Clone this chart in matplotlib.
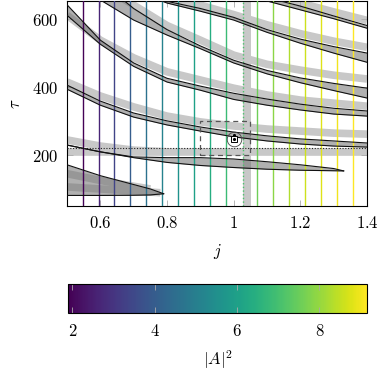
import numpy as np
import matplotlib
matplotlib.use("Agg")
import matplotlib.pyplot as plt
from matplotlib.patches import Rectangle
from matplotlib.ticker import FuncFormatter
from matplotlib.colors import Normalize

plt.rcParams['mathtext.fontset'] = 'cm'
plt.rcParams['font.size'] = 11

# vertical scan lines: coupling j and their |A|^2
j_lines = [0.547, 0.595, 0.642, 0.690, 0.738, 0.785, 0.833, 0.881, 0.928, 0.976,
           1.027, 1.071, 1.119, 1.166, 1.214, 1.262, 1.309, 1.357]
a2_lines = [1.95, 2.65, 3.35, 4.0, 4.6, 5.1, 5.6, 6.05, 6.4, 6.85,
            7.1, 7.55, 7.9, 8.3, 8.6, 8.8, 9.0, 9.15]
a2_min, a2_max = 1.9, 9.15

j_grid = [0.5, 0.6, 0.7, 0.8, 0.9, 1.0, 1.1, 1.2, 1.3, 1.4]

# tongue boundaries (black) and analytic bands (light gray), tau values
j_a = [1.0, 1.1, 1.2, 1.3, 1.4]
a_up = [690, 662, 637, 608, 580]
a_lo = [678, 652, 626, 600, 572]
band_a = [735, 690, 646, 620, 595]

j_b = [0.7, 0.8, 0.9, 1.0, 1.1, 1.2, 1.3, 1.4]
b_up = [690, 651, 630, 604, 568, 540, 518, 499]
b_lo = [685, 646, 622, 596, 560, 528, 499, 472]
band_b = [700, 665, 640, 612, 582, 556, 534, 516]

j_c = [0.6, 0.7, 0.8, 0.9, 1.0, 1.1, 1.2, 1.3, 1.4]
c_up = [710, 630, 568, 520, 478, 448, 426, 410, 396]
c_lo = [655, 596, 552, 512, 470, 438, 412, 389, 367]
band_c = [700, 640, 580, 537, 493, 466, 449, 434, 423]

d_up = [641, 537, 470, 425, 402, 381, 364, 349, 337, 329]
d_lo = [610, 525, 460, 414, 390, 363, 346, 332, 320, 314]
band_d = [610, 537, 485, 444, 420, 396, 376, 361, 352, 343]

e_up = [405, 358, 323, 300, 282, 267, 256, 247, 241, 235]
e_lo = [393, 346, 311, 288, 270, 253, 241, 232, 226, 223]
band_e = [414, 373, 341, 314, 297, 285, 276, 270, 264, 261]

j_f = [0.5, 0.6, 0.7, 0.8, 0.9, 1.0, 1.1, 1.2, 1.3, 1.33]
f_up = [229, 209, 194, 192, 192, 188, 180, 171, 160, 153]
f_lo = [229, 209, 192, 178, 169, 163, 158, 155, 153.5, 153]
j_bf = [0.5, 0.6, 0.7, 0.8]
band_f = [244, 226, 214, 209]
tau_band_h = 209
tau_dotted = 220

j_g = [0.5, 0.6, 0.7, 0.75, 0.79]
g_up = [171, 139, 113, 100, 86]
g_lo = [81, 81, 81.5, 82.5, 86]
j_g1 = [0.5, 0.6, 0.7, 0.75]
band_g1 = [145, 125, 108, 100]
j_g2 = [0.5, 0.6, 0.7, 0.78]
band_g2 = [106, 100, 94, 89]

j_vband = (1.029, 1.051)
box = (0.9, 1.05, 200, 300)
j_pt, tau_pt, tau_pt2 = 1.0, 246, 259

band_col = '#c8c8c8'
band_lw = 5.5
fill_col = '#707070'

fig = plt.figure(figsize=(3.87, 3.77), dpi=100)
ax = fig.add_axes([0.1731, 0.4536, 0.7752, 0.5438])

ax.axvspan(*j_vband, color=band_col, lw=0, zorder=1)
ax.axhline(tau_band_h, color=band_col, lw=band_lw, zorder=1)
for jj, bb in [(j_a, band_a), (j_b, band_b), (j_c, band_c), (j_grid, band_d),
               (j_grid, band_e), (j_bf, band_f), (j_g1, band_g1), (j_g2, band_g2)]:
    ax.plot(jj, bb, color=band_col, lw=band_lw, solid_capstyle='butt', zorder=1)

tongues = [(j_a, a_up, a_lo), (j_b, b_up, b_lo), (j_c, c_up, c_lo),
           (j_grid, d_up, d_lo), (j_grid, e_up, e_lo), (j_f, f_up, f_lo),
           (j_g, g_up, g_lo)]
for jj, up, lo in tongues:
    ax.fill_between(jj, lo, up, color=fill_col, alpha=0.55, lw=0, zorder=2)

cmap = plt.get_cmap('viridis')
norm = Normalize(a2_min, a2_max)
for k, (jv, av) in enumerate(zip(j_lines, a2_lines)):
    ls = ':' if k == 10 else '-'
    ax.axvline(jv, color=cmap(norm(av)), lw=1.0, ls=ls, zorder=3)

for jj, up, lo in tongues:
    ax.plot(jj, up, color='#111111', lw=0.8, zorder=4)
    ax.plot(jj, lo, color='#111111', lw=0.8, zorder=4)

ax.axhline(tau_dotted, color='#222222', lw=0.8, ls=(0, (1, 1.5)), zorder=4)

ax.add_patch(Rectangle((box[0], box[2]), box[1] - box[0], box[3] - box[2],
                       fill=False, ec='#555555', lw=0.9, ls=(0, (4, 3)), zorder=5))
ax.plot(j_pt, tau_pt, 'o', ms=10.5, mfc='none', mec='#444444', mew=0.6, zorder=5)
ax.plot(j_pt, tau_pt, 's', ms=4, mfc='white', mec='black', mew=0.7, zorder=5)
ax.plot([j_pt, j_pt], [tau_pt, tau_pt2], '.', color='black', ms=2.5, zorder=6)

ax.set_xlim(0.5, 1.4)
ax.set_ylim(50, 652)
ax.set_xticks([0.6, 0.8, 1.0, 1.2, 1.4])
ax.set_yticks([200, 400, 600])
fmt = FuncFormatter(lambda v, p: f'${v:g}$')
ax.xaxis.set_major_formatter(fmt)
ax.yaxis.set_major_formatter(fmt)
ax.tick_params(direction='in', length=4, width=0.6, color='#aaaaaa',
               top=True, right=True, labelsize=12, pad=6)
for s in ax.spines.values():
    s.set_linewidth(0.8)
ax.set_xlabel('$j$', fontsize=12, labelpad=7)
ax.set_ylabel(r'$\tau$', fontsize=12, labelpad=6)

cax = fig.add_axes([0.1765, 0.169, 0.771, 0.0777])
sm = plt.cm.ScalarMappable(norm=norm, cmap=cmap)
cb = fig.colorbar(sm, cax=cax, orientation='horizontal')
cb.set_ticks([2, 4, 6, 8])
cb.ax.xaxis.set_major_formatter(fmt)
cb.ax.tick_params(direction='in', length=4, width=0.6, color='#aaaaaa',
                  top=True, labelsize=12, pad=6)
cb.outline.set_linewidth(0.8)
cb.set_label('$|A|^2$', fontsize=12, labelpad=6)

fig.savefig('out.png', dpi=100)
